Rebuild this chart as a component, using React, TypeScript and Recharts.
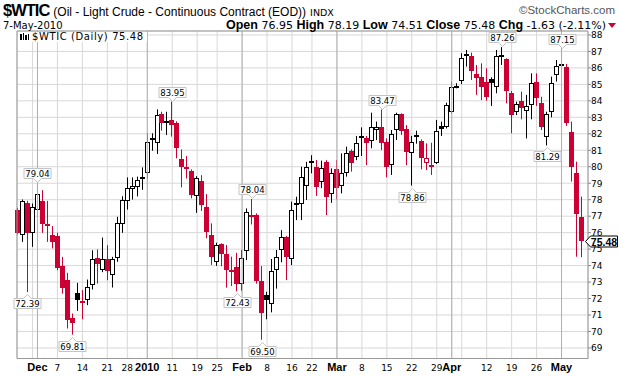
import React from "react";
import {
  ComposedChart,
  Bar,
  Scatter,
  XAxis,
  YAxis,
  CartesianGrid,
  ReferenceLine,
} from "recharts";

// daily OHLC, 24-Nov-2009 .. 7-May-2010 (index = trading day)
const opens = [
  77.4, 75.85, 77.81, 75.99, 77.36, 77.93, 76.55, 75.85, 75.79, 73.96,
  73.11, 70.79, 72.36, 71.7, 71.9, 72.81, 74.49, 73.76, 74.37, 73.42,
  74.49, 76.55, 77.93, 78.62, 78.75, 79.23, 79.6, 81.6, 81.42, 83.2,
  82.75, 82.84, 82.67, 80.45, 79.96, 79.76, 78.22, 79.15, 77.57, 75.86,
  74.24, 75.31, 74.7, 73.76, 73.89, 72.86, 74.91, 77.05, 77.06, 73.08,
  72.21, 71.65, 73.75, 74.94, 75.72, 74.4, 77.78, 77.74, 78.83, 80.35,
  80.0, 79.09, 80.3, 78.34, 79.84, 78.83, 79.6, 80.97, 80.57, 81.85,
  81.72, 81.58, 82.23, 82.39, 81.52, 80.1, 82.23, 83.18, 82.3, 80.81,
  81.79, 81.58, 80.21, 80.1, 80.21, 82.47, 82.43, 83.34, 84.9, 85.23,
  86.72, 86.72, 85.63, 85.47, 85.17, 85.31, 84.82, 86.8, 86.52, 84.5,
  83.3, 84.01, 83.4, 83.75, 85.17, 83.89, 81.79, 83.34, 85.57, 86.22,
  86.04, 82.13, 79.6, 76.95,
];
const highs = [
  77.5, 78.01, 77.93, 77.77, 79.04, 78.58, 77.93, 76.4, 75.99, 74.53,
  73.56, 71.09, 72.95, 72.51, 73.15, 74.93, 74.98, 75.7, 75.24, 74.53,
  76.96, 78.21, 79.35, 79.35, 79.4, 79.96, 82.03, 82.03, 83.48, 83.34,
  83.34, 83.95, 82.76, 81.05, 80.65, 79.84, 79.43, 79.49, 78.34, 76.56,
  75.39, 75.35, 75.25, 74.54, 74.78, 74.94, 77.47, 78.04, 77.17, 73.97,
  72.41, 74.4, 74.95, 76.15, 75.8, 77.88, 78.18, 80.0, 80.3, 80.7,
  80.41, 80.37, 80.4, 79.9, 80.41, 80.81, 81.22, 81.05, 81.87, 82.39,
  81.87, 83.28, 82.74, 83.47, 81.72, 82.23, 83.28, 83.24, 82.53, 81.87,
  82.19, 81.66, 81.42, 81.46, 82.84, 82.74, 83.89, 85.17, 85.07, 86.89,
  87.09, 86.93, 86.18, 86.28, 85.98, 85.43, 87.09, 87.26, 86.58, 84.6,
  83.95, 84.56, 84.36, 85.67, 85.67, 84.25, 83.34, 85.47, 86.48, 87.15,
  86.24, 82.74, 80.31, 78.19,
];
const lows = [
  75.9, 75.44, 72.39, 75.14, 76.96, 75.99, 75.44, 75.04, 73.72, 72.3,
  70.18, 69.81, 71.25, 70.74, 71.6, 72.55, 72.91, 73.6, 73.11, 72.67,
  74.23, 75.99, 77.4, 78.01, 78.2, 78.6, 79.27, 80.97, 80.77, 82.19,
  81.93, 81.83, 80.51, 78.75, 79.29, 78.08, 77.2, 77.32, 75.66, 74.04,
  73.98, 73.96, 72.66, 72.76, 72.43, 72.48, 74.33, 76.5, 72.9, 69.5,
  70.74, 71.16, 72.6, 74.2, 73.12, 74.03, 76.76, 76.76, 77.98, 79.6,
  78.23, 78.7, 77.07, 77.81, 78.02, 78.38, 79.4, 79.7, 80.4, 80.65,
  80.1, 81.12, 81.62, 81.02, 79.36, 79.5, 81.62, 81.93, 80.1, 78.86,
  81.4, 79.84, 79.8, 79.5, 80.17, 81.87, 82.33, 83.24, 84.76, 85.02,
  86.08, 85.27, 84.36, 84.05, 84.01, 83.69, 84.46, 86.18, 83.85, 82.03,
  83.14, 82.88, 81.72, 82.88, 83.69, 82.23, 81.29, 83.0, 85.17, 85.77,
  82.47, 79.1, 74.54, 74.51,
];
const closes = [
  75.99, 77.93, 75.99, 77.53, 78.34, 76.55, 76.45, 75.44, 73.86, 72.61,
  70.68, 70.54, 71.94, 71.84, 72.67, 74.37, 74.08, 74.37, 73.68, 74.37,
  76.6, 78.01, 78.74, 78.86, 79.2, 79.35, 81.52, 81.72, 83.14, 82.63,
  82.67, 82.54, 81.12, 80.0, 79.84, 78.28, 79.29, 77.67, 76.05, 74.5,
  75.25, 74.7, 73.73, 73.66, 72.88, 74.44, 77.27, 76.98, 73.08, 71.14,
  71.91, 73.69, 74.5, 75.72, 74.5, 77.4, 77.72, 79.4, 80.0, 80.28,
  78.79, 79.9, 78.14, 79.63, 78.69, 79.63, 80.81, 80.2, 81.46, 81.8,
  81.46, 82.39, 82.42, 81.46, 80.0, 81.99, 83.18, 82.2, 80.91, 81.52,
  81.93, 80.55, 80.51, 79.96, 82.19, 82.31, 83.75, 84.82, 84.83, 86.58,
  86.85, 85.83, 85.37, 84.86, 84.25, 85.06, 86.72, 86.74, 84.62, 83.14,
  83.81, 83.55, 83.7, 85.1, 84.15, 82.39, 83.2, 85.1, 86.12, 86.17,
  82.68, 79.96, 77.11, 75.48,
];
const firstPrevClose = 78.0;

// x axis: grid lines on first day of each week, labels below
const xTicks = [3, 4, 8, 13, 18, 22, 26, 31, 36, 40, 45, 50, 55, 59, 64, 69, 74, 79, 84, 87, 89, 94, 99, 104, 109];
const xTickLabels = ["", "Dec", "7", "14", "21", "28", "2010", "11", "19", "25", "Feb", "8", "16", "22", "Mar", "8", "15", "22", "29", "Apr", "", "12", "19", "26", "May"];
const monthStarts = [4, 26, 45, 64, 87, 109];
const priceTicks = [69, 70, 71, 72, 73, 74, 75, 76, 77, 78, 79, 80, 81, 82, 83, 84, 85, 86, 87, 88];

const highMarks = [4, 31, 47, 73, 97, 109];
const lowMarks = [2, 11, 44, 49, 79, 106];

const RED = "#cc0033";
const VERDANA = "'DejaVu Sans', Verdana, sans-serif";
const ARIAL = "'Liberation Sans', Arial, sans-serif";
const X_DOMAIN = [-0.1, 114.3];
const Y_DOMAIN = [68.36, 88.24];

const rows = opens.map((o, i) => ({
  i,
  o,
  h: highs[i],
  l: lows[i],
  c: closes[i],
  pc: i === 0 ? firstPrevClose : closes[i - 1],
  range: [lows[i], highs[i]],
}));

const highData = highMarks.map((i) => ({ i, v: highs[i] }));
const lowData = lowMarks.map((i) => ({ i, v: lows[i] }));
const lastData = [{ i: closes.length - 1, v: closes[closes.length - 1] }];

function Candle(props: any) {
  const { x, y, width, height, payload } = props;
  if (x == null || y == null) return null;
  const top = Math.min(y, y + height);
  const H = Math.abs(height);
  const { o, h, l, c, pc } = payload;
  const py = (v: number) => (h === l ? top : top + ((h - v) / (h - l)) * H);
  const n = Math.round(x + width / 2 - 0.5);
  const red = c < pc;
  const hollow = c > o;
  const color = red ? RED : "#000";
  let bTop = Math.round(py(Math.max(o, c)));
  let bBot = Math.round(py(Math.min(o, c)));
  if (bBot - bTop < 2) bBot = bTop + 2;
  return (
    <g>
      <line x1={n + 0.5} x2={n + 0.5} y1={py(h)} y2={py(l)} stroke={color} strokeWidth={1} />
      {hollow ? (
        <rect x={n - 1.5} y={bTop + 0.5} width={4} height={bBot - bTop - 1} fill="#fff" stroke={color} strokeWidth={1} />
      ) : (
        <rect x={n - 2} y={bTop} width={5} height={bBot - bTop} fill={color} />
      )}
    </g>
  );
}

function HighTag(props: any) {
  const { cx, cy, payload } = props;
  const w = 27;
  const mid = Math.round(cx) + 0.5;
  const x0 = mid - 13.5;
  const bottom = Math.round(cy - 5) + 0.5;
  const top = bottom - 10;
  const d = `M${x0},${top} H${x0 + w} V${bottom} H${mid + 4} L${mid},${bottom + 4} L${mid - 4},${bottom} H${x0} Z`;
  return (
    <g>
      <path d={d} fill="#fff" stroke="#c4c4c4" />
      <text x={mid} y={bottom - 2} textAnchor="middle" fontSize={8.5} fontFamily={VERDANA} fill="#000">
        {payload.v.toFixed(2)}
      </text>
    </g>
  );
}

function LowTag(props: any) {
  const { cx, cy, payload } = props;
  const w = 27;
  const mid = Math.round(cx) + 0.5;
  const x0 = mid - 13.5;
  const top = Math.round(cy + 6) + 0.5;
  const bottom = top + 10;
  const d = `M${x0},${top} H${mid - 4} L${mid},${top - 4} L${mid + 4},${top} H${x0 + w} V${bottom} H${x0} Z`;
  return (
    <g>
      <path d={d} fill="#fff" stroke="#c4c4c4" />
      <text x={mid} y={bottom - 2} textAnchor="middle" fontSize={8.5} fontFamily={VERDANA} fill="#000">
        {payload.v.toFixed(2)}
      </text>
    </g>
  );
}

function PriceTag(props: any) {
  const { cy, payload } = props;
  const y = Math.round(cy) + 0.5;
  const d = `M585.5,${y} L590.5,${y - 5.5} H617.5 V${y + 5.5} H590.5 Z`;
  return (
    <g>
      <path d={d} fill="#fff" stroke="#000" />
      <text x={604} y={y + 4} textAnchor="middle" fontSize={10.5} fontWeight={700} fontFamily={ARIAL} fill="#000">
        {payload.v.toFixed(2)}
      </text>
    </g>
  );
}

function XTick(props: any) {
  const { x, payload } = props;
  const k = xTicks.indexOf(payload.value);
  const label = xTickLabels[k];
  const bold = monthStarts.includes(payload.value);
  return (
    <text
      x={x}
      y={371}
      textAnchor="middle"
      fontFamily={bold ? ARIAL : VERDANA}
      fontWeight={bold ? 700 : 400}
      fontSize={bold ? 11 : 9}
      fill="#000"
    >
      {label}
    </text>
  );
}

function YTick(props: any) {
  const { y, payload } = props;
  return (
    <text x={591} y={y + 3.3} fontFamily={VERDANA} fontSize={9} fill="#000">
      {payload.value}
    </text>
  );
}

function Header() {
  return (
    <svg width={620} height={32} style={{ position: "absolute", left: 0, top: 0 }}>
      <text x={3} y={16} fontFamily={ARIAL} fill="#000">
        <tspan fontSize={16.5} fontWeight={700} letterSpacing={-1}>$WTIC</tspan>
        <tspan fontSize={12} dx={4}>(Oil - Light Crude - Continuous Contract (EOD))</tspan>
        <tspan fontSize={9.5} fontFamily={VERDANA} dx={4}>INDX</tspan>
      </text>
      <text x={615} y={14} textAnchor="end" fontFamily={ARIAL} fontSize={11.5} fill="#555">
        ©StockCharts.com
      </text>
      <text x={3} y={29} fontFamily={VERDANA} fontSize={10} fill="#000">
        7-May-2010
      </text>
      <text x={606} y={29} textAnchor="end" fontFamily={VERDANA} fontSize={11} fill="#000">
        <tspan fontFamily={ARIAL} fontWeight={700} fontSize={12.5}>Open</tspan> 76.95{" "}
        <tspan fontFamily={ARIAL} fontWeight={700} fontSize={12.5}>High</tspan> 78.19{" "}
        <tspan fontFamily={ARIAL} fontWeight={700} fontSize={12.5}>Low</tspan> 74.51{" "}
        <tspan fontFamily={ARIAL} fontWeight={700} fontSize={12.5}>Close</tspan> 75.48{" "}
        <tspan fontFamily={ARIAL} fontWeight={700} fontSize={12.5}>Chg</tspan> -1.63 (-2.11%)
      </text>
      <path d="M608,23 L616,23 L612,28 Z" fill={RED} />
    </svg>
  );
}

function Legend() {
  return (
    <svg width={150} height={12} style={{ position: "absolute", left: 0, top: 31 }}>
      <rect x={18} y={1} width={129} height={10} fill="#fff" />
      <g fill="#000">
        <rect x={20} y={3} width={2} height={6} />
        <rect x={23} y={2} width={1} height={7} />
        <rect x={25} y={4} width={2} height={5} />
        <rect x={28} y={3} width={1} height={6} />
      </g>
      <text x={32} y={8.5} fontFamily={VERDANA} fontSize={10} letterSpacing={0.6} fill="#000">
        $WTIC (Daily) 75.48
      </text>
    </svg>
  );
}

export default function App() {
  return (
    <div style={{ position: "absolute", left: 0, top: 0, width: 620, height: 376, background: "#fff" }}>
      <ComposedChart
        width={620}
        height={376}
        data={rows}
        margin={{ top: 31, right: 0, bottom: 0, left: 17 }}
      >
        <CartesianGrid stroke="#d8d8d8" strokeWidth={1} />
        <XAxis
          dataKey="i"
          type="number"
          domain={X_DOMAIN}
          ticks={xTicks}
          interval={0}
          height={17.5}
          tick={<XTick />}
          tickLine={false}
          axisLine={{ stroke: "#999" }}
        />
        <YAxis
          orientation="right"
          type="number"
          domain={Y_DOMAIN}
          ticks={priceTicks}
          interval={0}
          width={32}
          tickSize={3}
          tick={<YTick />}
          tickLine={{ stroke: "#888" }}
          axisLine={{ stroke: "#999" }}
        />
        {monthStarts.map((m) => (
          <ReferenceLine key={m} x={m} stroke="#b0b0b0" />
        ))}
        <ReferenceLine x={X_DOMAIN[0]} stroke="#999" />
        <ReferenceLine y={Y_DOMAIN[1]} stroke="#999" />
        <Bar dataKey="range" barSize={5} shape={<Candle />} isAnimationActive={false} />
        <Scatter data={highData} dataKey="v" shape={<HighTag />} isAnimationActive={false} />
        <Scatter data={lowData} dataKey="v" shape={<LowTag />} isAnimationActive={false} />
        <Scatter data={lastData} dataKey="v" shape={<PriceTag />} isAnimationActive={false} />
      </ComposedChart>
      <Header />
      <Legend />
    </div>
  );
}
